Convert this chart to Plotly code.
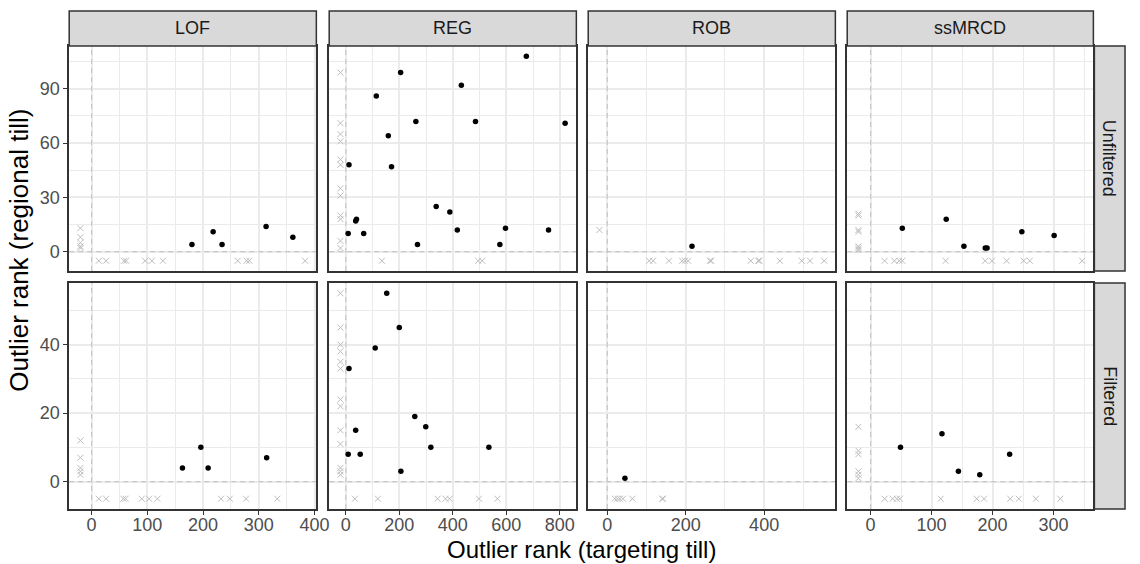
import plotly.graph_objects as go

METHODS = ["LOF", "REG", "ROB", "ssMRCD"]
ROWS = ["Unfiltered", "Filtered"]
MISSING_X = -20   # rank placeholder: not flagged by targeting till
MISSING_Y = -5    # rank placeholder: not flagged by regional till

# ---------- Unfiltered ----------
lof_u_x = [180, 218, 234, 313, 361]
lof_u_y = [4, 11, 4, 14, 8]
lof_u_yonly = [13, 8, 5, 3, 2]
lof_u_xonly = [13, 26, 58, 62, 96, 108, 128, 262, 278, 283, 383]

reg_u_x = [675, 205, 432, 114, 262, 485, 820, 159, 12, 171, 338, 389, 40, 37, 9, 67, 417, 597, 758, 268, 576]
reg_u_y = [108, 99, 92, 86, 72, 72, 71, 64, 48, 47, 25, 22, 18, 17, 10, 10, 12, 13, 12, 4, 4]
reg_u_yonly = [99, 71, 65, 61, 51, 48, 35, 31, 20, 18, 6, 2]
reg_u_xonly = [135, 495, 510]

rob_u_x = [216]
rob_u_y = [3]
rob_u_yonly = [12]
rob_u_xonly = [107, 117, 157, 191, 198, 206, 262, 265, 366, 385, 388, 440, 496, 517, 553]

ss_u_x = [52, 124, 153, 191, 188, 248, 301]
ss_u_y = [13, 18, 3, 2, 2, 11, 9]
ss_u_yonly = [21, 20, 12, 11, 3, 2, 1]
ss_u_xonly = [23, 39, 47, 52, 123, 188, 199, 223, 251, 261, 347]

# ---------- Filtered ----------
lof_f_x = [163, 196, 209, 314]
lof_f_y = [4, 10, 4, 7]
lof_f_yonly = [12, 7, 4, 3, 2]
lof_f_xonly = [13, 26, 57, 61, 90, 103, 118, 232, 248, 277, 333]

reg_f_x = [153, 200, 110, 12, 258, 299, 37, 318, 535, 9, 54, 206]
reg_f_y = [55, 45, 39, 33, 19, 16, 15, 10, 10, 8, 8, 3]
reg_f_yonly = [55, 45, 40, 38, 35, 33, 24, 22, 15, 11, 4, 3, 2]
reg_f_xonly = [34, 120, 343, 373, 388, 498, 567]

rob_f_x = [45]
rob_f_y = [1]
rob_f_yonly = []
rob_f_xonly = [19, 26, 32, 40, 64, 140, 142]

ss_f_x = [49, 117, 144, 179, 228]
ss_f_y = [10, 14, 3, 2, 8]
ss_f_yonly = [16, 9, 8, 3, 2, 1]
ss_f_xonly = [23, 36, 43, 48, 115, 174, 186, 229, 243, 271, 311]

PANELS = {
    (0, 0): (lof_u_x, lof_u_y, lof_u_yonly, lof_u_xonly),
    (0, 1): (reg_u_x, reg_u_y, reg_u_yonly, reg_u_xonly),
    (0, 2): (rob_u_x, rob_u_y, rob_u_yonly, rob_u_xonly),
    (0, 3): (ss_u_x, ss_u_y, ss_u_yonly, ss_u_xonly),
    (1, 0): (lof_f_x, lof_f_y, lof_f_yonly, lof_f_xonly),
    (1, 1): (reg_f_x, reg_f_y, reg_f_yonly, reg_f_xonly),
    (1, 2): (rob_f_x, rob_f_y, rob_f_yonly, rob_f_xonly),
    (1, 3): (ss_f_x, ss_f_y, ss_f_yonly, ss_f_xonly),
}

X_DTICK = [100, 200, 200, 100]
Y_DTICK = [30, 20]

# ---------- geometry (pixels) ----------
W, H = 1140, 564
COLS = [(70, 320), (333, 583), (595, 845), (857, 1106)]
ROWS_PX = [(46, 271), (283, 509)]
STRIP_TOP = (11, 46)
STRIP_RIGHT = (1107, 1138)

def px(x):
    return x / W

def py(y):
    return 1 - y / H

FONT = "Liberation Sans, Arial, sans-serif"
GRID = "#EBEBEB"
BORDER = "#333333"
CROSS = "#BDBDBD"
DASH = "#C8C8C8"

# ranges like ggplot (5% expansion)
def expand(vals):
    lo, hi = min(vals), max(vals)
    s = hi - lo
    return [lo - 0.05 * s, hi + 0.05 * s]

x_ranges = []
for c in range(4):
    vals = []
    for r in range(2):
        xs, ys, yo, xo = PANELS[(r, c)]
        vals += list(xs) + list(xo) + ([MISSING_X] if yo else [])
    x_ranges.append(expand(vals))
y_ranges = []
for r in range(2):
    vals = []
    for c in range(4):
        xs, ys, yo, xo = PANELS[(r, c)]
        vals += list(ys) + list(yo) + ([MISSING_Y] if xo else [])
    y_ranges.append(expand(vals))

fig = go.Figure()
layout = {}
shapes = []
annotations = []

for r in range(2):
    for c in range(4):
        k = r * 4 + c + 1
        xn = "x" if k == 1 else f"x{k}"
        yn = "y" if k == 1 else f"y{k}"
        xs, ys, yo, xo = PANELS[(r, c)]
        xr, yr = x_ranges[c], y_ranges[r]
        # dashed reference lines at zero
        fig.add_trace(go.Scatter(
            x=[0, 0, None, xr[0], xr[1]], y=[yr[0], yr[1], None, 0, 0], mode="lines",
            xaxis=xn, yaxis=yn, showlegend=False, hoverinfo="skip",
            line=dict(color=DASH, width=1.2, dash="5px,4px")))
        cx = [MISSING_X] * len(yo) + list(xo)
        cy = list(yo) + [MISSING_Y] * len(xo)
        fig.add_trace(go.Scatter(
            x=cx, y=cy, mode="markers", xaxis=xn, yaxis=yn, showlegend=False,
            marker=dict(symbol="x-thin", size=6, line=dict(color=CROSS, width=1))))
        fig.add_trace(go.Scatter(
            x=xs, y=ys, mode="markers", xaxis=xn, yaxis=yn, showlegend=False,
            marker=dict(symbol="circle", size=5.5, color="black")))
        bottom = (r == 1)
        left = (c == 0)
        layout["xaxis" if k == 1 else f"xaxis{k}"] = dict(
            domain=[px(COLS[c][0]), px(COLS[c][1])], anchor=yn,
            range=xr, dtick=X_DTICK[c], tick0=0,
            showgrid=True, gridcolor=GRID, gridwidth=1.6, zeroline=False,
            minor=dict(dtick=X_DTICK[c] / 2, tick0=0, showgrid=True, gridcolor=GRID, gridwidth=0.8),
            showline=True, linecolor=BORDER, linewidth=1.5, mirror=True,
            ticks="outside" if bottom else "", ticklen=4, tickwidth=1.4, tickcolor=BORDER,
            ticklabelstandoff=-5,
            showticklabels=bottom, tickfont=dict(family=FONT, size=18, color="#4D4D4D"))
        layout["yaxis" if k == 1 else f"yaxis{k}"] = dict(
            domain=[py(ROWS_PX[r][1]), py(ROWS_PX[r][0])], anchor=xn,
            range=yr, dtick=Y_DTICK[r], tick0=0,
            showgrid=True, gridcolor=GRID, gridwidth=1.6, zeroline=False,
            minor=dict(dtick=Y_DTICK[r] / 2, tick0=0, showgrid=True, gridcolor=GRID, gridwidth=0.8),
            showline=True, linecolor=BORDER, linewidth=1.5, mirror=True,
            ticks="outside" if left else "", ticklen=4, tickwidth=1.4, tickcolor=BORDER,
            showticklabels=left, tickfont=dict(family=FONT, size=18, color="#4D4D4D"))

# strips
for c, m in enumerate(METHODS):
    shapes.append(dict(type="rect", xref="paper", yref="paper",
                       x0=px(COLS[c][0]), x1=px(COLS[c][1]), y0=py(STRIP_TOP[1]), y1=py(STRIP_TOP[0]),
                       fillcolor="#D9D9D9", line=dict(color=BORDER, width=1.5), layer="above"))
    annotations.append(dict(text=m, xref="paper", yref="paper", showarrow=False,
                            x=px((COLS[c][0] + COLS[c][1]) / 2), y=py(sum(STRIP_TOP) / 2),
                            xanchor="center", yanchor="middle",
                            font=dict(family=FONT, size=18, color="#1A1A1A")))
for r, lab in enumerate(ROWS):
    shapes.append(dict(type="rect", xref="paper", yref="paper",
                       x0=px(STRIP_RIGHT[0]), x1=px(STRIP_RIGHT[1]), y0=py(ROWS_PX[r][1]), y1=py(ROWS_PX[r][0]),
                       fillcolor="#D9D9D9", line=dict(color=BORDER, width=1.5), layer="above"))
    annotations.append(dict(text=lab, xref="paper", yref="paper", showarrow=False, textangle=90,
                            x=px(sum(STRIP_RIGHT) / 2), y=py(sum(ROWS_PX[r]) / 2),
                            xanchor="center", yanchor="middle",
                            font=dict(family=FONT, size=18, color="#1A1A1A")))

annotations.append(dict(text="Outlier rank (targeting till)", xref="paper", yref="paper", showarrow=False,
                        x=px((COLS[0][0] + COLS[3][1]) / 2), y=py(563.5), xanchor="center", yanchor="bottom",
                        borderpad=0, font=dict(family=FONT, size=24, color="black")))
annotations.append(dict(text="Outlier rank (regional till)", xref="paper", yref="paper", showarrow=False,
                        textangle=-90, x=px(19), y=py(250),
                        xanchor="center", yanchor="middle",
                        font=dict(family=FONT, size=26, color="black")))

fig.update_layout(width=W, height=H, autosize=False, margin=dict(l=0, r=0, t=0, b=0),
                  paper_bgcolor="white", plot_bgcolor="white",
                  shapes=shapes, annotations=annotations, **layout)
fig.write_html("out.html", config={"displayModeBar": False, "responsive": False},
               default_width="1140px", default_height="564px",
               post_script="document.body.style.margin='0px';document.body.style.padding='0px';"
                           "document.body.style.overflow='hidden';")
